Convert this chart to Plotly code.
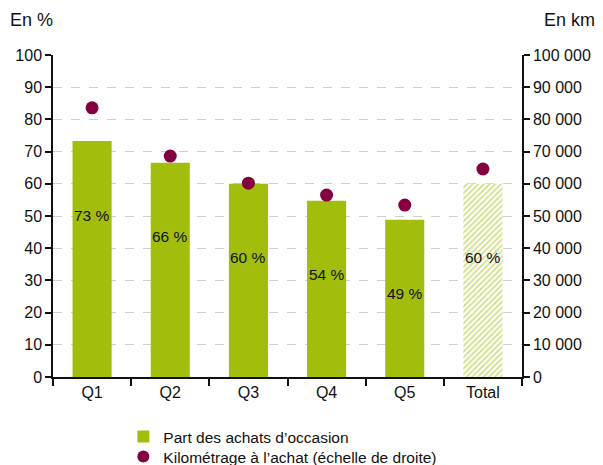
import plotly.graph_objects as go

categories = ["Q1", "Q2", "Q3", "Q4", "Q5", "Total"]
part_occasion = [73.3, 66.5, 60.0, 54.7, 48.8, 60.0]
labels = ["73 %", "66 %", "60 %", "54 %", "49 %", "60 %"]
kilometrage = [83600, 68600, 60200, 56500, 53400, 64600]

GREEN = "#a3bd0c"
PURPLE = "#84003f"
FONT = "Liberation Sans"

fig = go.Figure()

# bars: solid for quintiles, hatched for total
fig.add_trace(go.Bar(
    x=categories[:5], y=part_occasion[:5], name="Part des achats d’occasion",
    marker=dict(color=GREEN, line=dict(width=0)), width=0.5, showlegend=True,
    legend="legend",
))
fig.add_trace(go.Bar(
    x=categories[5:], y=part_occasion[5:], name="Total",
    marker=dict(color="white", line=dict(width=0),
                pattern=dict(shape="/", fgcolor=GREEN, bgcolor="white", size=4, solidity=0.45)),
    width=0.5, showlegend=False,
))
fig.add_trace(go.Scatter(
    x=categories, y=kilometrage, mode="markers", yaxis="y2",
    name="Kilométrage à l’achat (échelle de droite)",
    marker=dict(color=PURPLE, size=13, line=dict(width=0)), legend="legend2",
))

for c, v, t in zip(categories, part_occasion, labels):
    fig.add_annotation(x=c, y=v - 23, text=t, showarrow=False, xref="x", yref="y",
                       font=dict(size=15.5, color="#111111", family=FONT))

fig.add_annotation(x=0, xref="paper", xanchor="left", xshift=-45, y=1, yref="paper", yshift=35,
                   yanchor="middle", text="En %", showarrow=False, font=dict(size=18, color="#111111", family=FONT))
fig.add_annotation(x=1, xref="paper", xanchor="right", xshift=75, y=1, yref="paper", yshift=35,
                   yanchor="middle", text="En km", showarrow=False, font=dict(size=18, color="#111111", family=FONT))

legend_common = dict(x=0.15, xref="paper", yref="container", xanchor="left", yanchor="middle",
                     orientation="v", font=dict(size=15.5, family=FONT, color="#111111"),
                     bgcolor="rgba(0,0,0,0)", itemsizing="constant")

fig.update_layout(
    width=603, height=465,
    margin=dict(l=53, r=73, t=55, b=88),
    paper_bgcolor="white", plot_bgcolor="white",
    font=dict(family=FONT, size=16, color="#111111"),
    separators=", ",
    barmode="overlay",
    xaxis=dict(type="category", categoryorder="array", categoryarray=categories,
               showline=True, linecolor="#111111", linewidth=1.5,
               ticks="outside", tickson="boundaries", ticklen=7, tickcolor="#111111", tickwidth=1.5,
               showgrid=False, tickfont=dict(size=16), range=[-0.5, 5.5]),
    yaxis=dict(range=[0, 100], dtick=10, showline=True, linecolor="#111111", linewidth=1.5,
               ticks="outside", ticklen=6, tickcolor="#111111", tickwidth=1.5,
               showgrid=True, gridcolor="#cfcfcf", griddash="dash", gridwidth=1,
               zeroline=False, tickfont=dict(size=16)),
    yaxis2=dict(range=[0, 100000], dtick=10000, overlaying="y", side="right",
                showline=True, linecolor="#111111", linewidth=1.5,
                ticks="outside", ticklen=6, tickcolor="#111111", tickwidth=1.5,
                showgrid=False, zeroline=False, tickformat=",d", tickfont=dict(size=16)),
    legend=dict(legend_common, y=(465 - 437) / 465),
    legend2=dict(legend_common, y=(465 - 457) / 465),
)

fig.write_html("out.html")
